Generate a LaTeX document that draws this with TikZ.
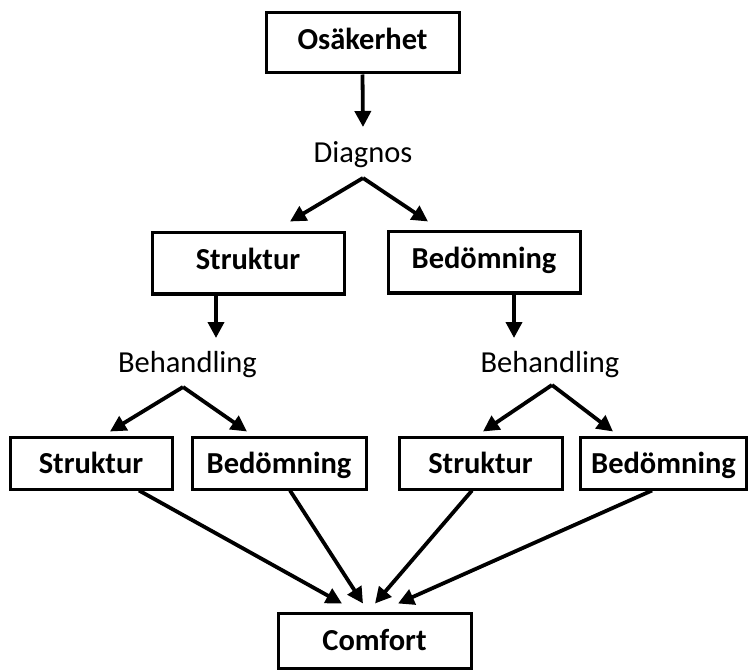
\documentclass[tikz,border=0pt]{standalone}
\usepackage{fontspec}
\setmainfont{Carlito}
\usetikzlibrary{arrows.meta,calc}
\begin{document}
\begin{tikzpicture}[x=1pt,y=-1pt,
  nbox/.style={draw=black,line width=3pt,rectangle,inner sep=0pt,text height=19pt,text depth=6pt,font=\fontsize{30.5}{36}\selectfont\bfseries},
  lowbox/.style={nbox,text height=24pt,text depth=4pt},
  lab/.style={inner sep=0pt,anchor=base,font=\fontsize{30.5}{36}\selectfont},
  arr/.style={line width=3.8pt,-{Triangle[length=16pt,width=16pt]}}]
\useasboundingbox (0,0) rectangle (750,671);
\node[nbox,minimum width=193pt,minimum height=60pt] (o) at (362.5,43) {Osäkerhet};
\node[lab] (d) at (363,163) {Diagnos};
\node[nbox,minimum width=192pt,minimum height=61pt] (s2) at (248,263.5) {Struktur};
\node[nbox,minimum width=192pt,minimum height=61pt] (b2) at (484,262.5) {Bedömning};
\node[lab] (h1) at (187.5,372) {Behandling};
\node[lab] (h2) at (550,372) {Behandling};
\node[lowbox,minimum width=162pt,minimum height=52pt] (s3a) at (91,463) {Struktur};
\node[lowbox,minimum width=174pt,minimum height=52pt] (b3a) at (279,463) {Bedömning};
\node[lowbox,minimum width=163pt,minimum height=52pt] (s3b) at (480.5,463) {Struktur};
\node[lowbox,minimum width=166pt,minimum height=52pt] (b3b) at (663.5,463) {Bedömning};
\node[lowbox,minimum width=193pt,minimum height=55pt] (c) at (374.5,640.5) {Comfort};
% top
\draw[arr] (o.south) -- ([yshift=36pt]d.base);
\coordinate (da) at ([yshift=-15pt]d.base);
\draw[arr] (da) -- ([xshift=42pt,yshift=10pt]s2.north);
\draw[arr] (da) -- ([xshift=-56pt,yshift=9pt]b2.north);
% level 2 to Behandling
\draw[arr] ([xshift=-32pt]s2.south) -- ([xshift=28.5pt,yshift=34pt]h1.base);
\draw[arr] ([xshift=30pt]b2.south) -- ([xshift=-36pt,yshift=34pt]h2.base);
% Behandling splits
\coordinate (ha) at ([xshift=-4.5pt,yshift=-15pt]h1.base);
\draw[arr] (ha) -- ([xshift=19pt,yshift=4pt]s3a.north);
\draw[arr] (ha) -- ([xshift=-32pt,yshift=4pt]b3a.north);
\coordinate (hb) at ([xshift=2pt,yshift=-13pt]h2.base);
\draw[arr] (hb) -- ([xshift=2.5pt,yshift=4pt]s3b.north);
\draw[arr] (hb) -- ([xshift=-50.5pt,yshift=4pt]b3b.north);
% to Comfort
\draw[arr] ([xshift=48pt]s3a.south) -- ([xshift=-32.5pt,yshift=8pt]c.north);
\draw[arr] ([xshift=11pt]b3a.south) -- ([xshift=-11.5pt,yshift=8pt]c.north);
\draw[arr] ([xshift=-8.5pt]s3b.south) -- ([xshift=0.5pt,yshift=8pt]c.north);
\draw[arr] ([xshift=-11.5pt]b3b.south) -- ([xshift=23.5pt,yshift=8pt]c.north);
\end{tikzpicture}
\end{document}
